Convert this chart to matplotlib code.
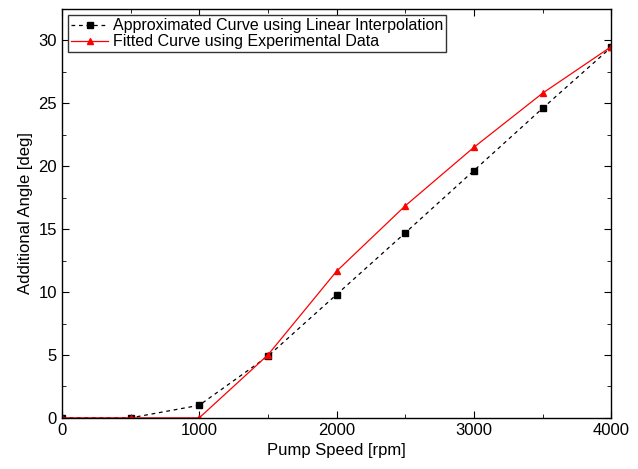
import numpy as np
import matplotlib.pyplot as plt
from matplotlib.ticker import MultipleLocator

plt.rcParams['font.family'] = ['Liberation Sans', 'DejaVu Sans']

speed = [0, 500, 1000, 1500, 2000, 2500, 3000, 3500, 4000]
approx = [0, 0, 1.0, 4.9, 9.8, 14.7, 19.65, 24.6, 29.45]
fitted = [0, 0, 0, 5.0, 11.65, 16.85, 21.5, 25.8, 29.5]

fig = plt.figure(figsize=(6.38, 4.69), dpi=100)
ax = fig.add_axes([0.097, 0.109, 0.861, 0.872])

ax.plot(speed, approx, 'k--s', lw=0.9, ms=4.5, dashes=(3, 3),
        label='Approximated Curve using Linear Interpolation')
ax.plot(speed, fitted, 'r-^', lw=0.9, ms=5,
        label='Fitted Curve using Experimental Data')

ax.set_xlim(0, 4000)
ax.set_ylim(0, 32.5)
ax.xaxis.set_major_locator(MultipleLocator(1000))
ax.xaxis.set_minor_locator(MultipleLocator(500))
ax.yaxis.set_major_locator(MultipleLocator(5))
ax.yaxis.set_minor_locator(MultipleLocator(2.5))
ax.tick_params(which='both', direction='in', top=True, right=True, labelsize=12)
ax.tick_params(which='major', length=5)
ax.tick_params(which='minor', length=3)
for s in ax.spines.values():
    s.set_linewidth(1.0)

ax.set_xlabel('Pump Speed [rpm]', fontsize=12)
ax.set_ylabel('Additional Angle [deg]', fontsize=12)

leg = ax.legend(loc='upper left', fontsize=11.5, fancybox=False, framealpha=1,
                edgecolor='#333333', borderpad=0.2, labelspacing=0.05,
                handlelength=2.3, handletextpad=0.3, borderaxespad=0.4)
leg.get_frame().set_linewidth(1.0)

fig.savefig('out.png', dpi=100)
